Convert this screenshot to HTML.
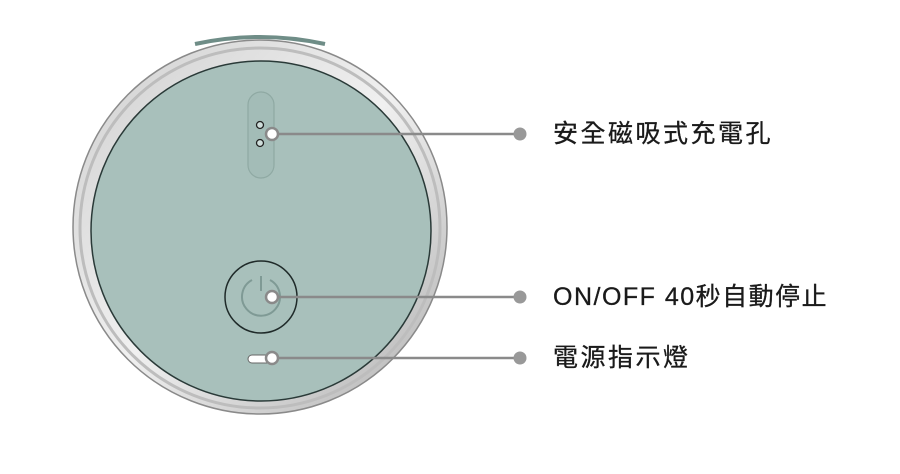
<!DOCTYPE html>
<html><head><meta charset="utf-8"><style>
html,body{margin:0;padding:0;background:#fff;width:900px;height:474px;overflow:hidden}
.t{position:absolute;left:553px;font-family:"Liberation Sans","Noto Sans CJK TC",sans-serif;font-size:25px;color:#1a1a1a;letter-spacing:2.5px;line-height:30px;white-space:nowrap;-webkit-text-stroke:0.3px #1a1a1a}
</style></head><body>
<svg width="900" height="474" style="position:absolute;left:0;top:0">
<defs>
<linearGradient id="ring" x1="0" y1="0" x2="1" y2="1">
<stop offset="0" stop-color="#cfcfcf"/><stop offset="0.5" stop-color="#f0f0f0"/><stop offset="1" stop-color="#b0b0b0"/>
</linearGradient>
</defs>
<path d="M195 44 Q260 30 325 44" stroke="#6f8d87" stroke-width="4" fill="none"/>
<circle cx="260" cy="227" r="187" fill="url(#ring)" stroke="#8a8a8a" stroke-width="1.5"/>
<circle cx="260" cy="228" r="180" fill="none" stroke="#bdbdbd" stroke-width="3"/>
<circle cx="261" cy="231" r="170" fill="#a8c0bb" stroke="#2a3a38" stroke-width="1.5"/>
<rect x="248" y="92" width="26" height="86" rx="13" fill="#a3bcb7" stroke="#8fa9a3" stroke-width="1.2"/>
<circle cx="260" cy="125" r="3.5" fill="#cfdedb" stroke="#222" stroke-width="1.3"/>
<circle cx="260" cy="143" r="3.5" fill="#cfdedb" stroke="#222" stroke-width="1.3"/>
<circle cx="261" cy="297" r="36" fill="#a8c0bb" stroke="#1f2a29" stroke-width="1.5"/>
<path d="M252 280 A19 19 0 1 0 270 280" fill="none" stroke="#7f9a95" stroke-width="2"/>
<line x1="261" y1="276" x2="261" y2="291" stroke="#7f9a95" stroke-width="2"/>
<rect x="248" y="355" width="28" height="8" rx="4" fill="#fff" stroke="#666" stroke-width="1"/>
<g stroke="#8a8a8a" stroke-width="2.5">
<line x1="273" y1="134" x2="520" y2="134"/>
<line x1="273" y1="297" x2="520" y2="297"/>
<line x1="273" y1="358" x2="520" y2="358"/>
</g>
<g fill="#fff" stroke="#8a8a8a" stroke-width="2.5">
<circle cx="272" cy="134" r="6"/><circle cx="272" cy="297" r="6"/><circle cx="272" cy="358" r="6"/>
</g>
<g fill="#999"><circle cx="520" cy="134" r="6.5"/><circle cx="520" cy="297" r="6.5"/><circle cx="520" cy="358" r="6.5"/></g>
</svg>
<div class="t" style="top:119px">安全磁吸式充電孔</div>
<div class="t" style="top:282px;letter-spacing:1.5px">ON/OFF 40秒自動停止</div>
<div class="t" style="top:343px">電源指示燈</div>
</body></html>
